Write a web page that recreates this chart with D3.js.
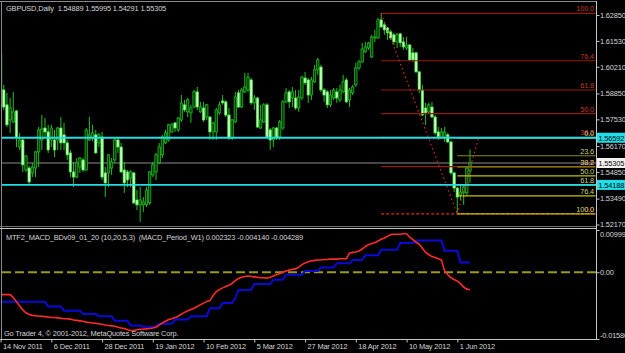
<!DOCTYPE html>
<html><head><meta charset="utf-8">
<script src="https://cdn.jsdelivr.net/npm/d3@7"></script>
<style>html,body{margin:0;padding:0;background:#000;overflow:hidden}svg{display:block}</style>
</head><body><svg id="c" width="625" height="353"></svg>
<script>
// ---- DATA (GBPUSD Daily, 14 Nov 2011 .. 7 Jun 2012) ----
const opens = [1.6087,1.5903,1.5827,1.5750,1.5740,1.5796,1.5612,1.5648,1.5495,1.5505,
1.5480,1.5505,1.5587,1.5648,1.5709,1.5689,1.5648,1.5648,1.5648,1.5709,
1.5674,1.5633,1.5582,1.5485,1.5459,1.5510,1.5546,1.5495,1.5648,1.5658,
1.5674,1.5633,1.5663,1.5480,1.5480,1.5505,1.5546,1.5648,1.5612,1.5495,
1.5485,1.5454,1.5480,1.5342,1.5317,1.5317,1.5317,1.5327,1.5470,1.5485,
1.5531,1.5572,1.5633,1.5648,1.5689,1.5735,1.5699,1.5750,1.5827,1.5791,
1.5786,1.5816,1.5893,1.5791,1.5811,1.5765,1.5765,1.5689,1.5689,1.5786,
1.5847,1.5842,1.5775,1.5658,1.5740,1.5888,1.5816,1.5893,1.5903,1.5954,
1.5837,1.5862,1.5709,1.5740,1.5827,1.5699,1.5648,1.5709,1.5663,1.5709,
1.5842,1.5893,1.5862,1.5862,1.5811,1.5862,1.5964,1.5954,1.5877,1.5944,
1.6005,1.6020,1.5903,1.5893,1.5827,1.5862,1.5893,1.5852,1.5893,1.5954,
1.5852,1.5888,1.5929,1.6015,1.6046,1.6097,1.6117,1.6071,1.6168,1.6168,
1.6260,1.6235,1.6219,1.6199,1.6184,1.6148,1.6189,1.6148,1.6117,1.6132,
1.6092,1.6092,1.5995,1.5903,1.5811,1.5791,1.5816,1.5765,1.5689,1.5663,
1.5663,1.5674,1.5638,1.5480,1.5403,1.5367,1.5378,1.5378,1.54889];
const highs = [1.6097,1.5929,1.5888,1.5862,1.5893,1.5801,1.5684,1.5663,1.5572,1.5516,
1.5531,1.5592,1.5714,1.5775,1.5760,1.5725,1.5725,1.5699,1.5714,1.5765,
1.5735,1.5648,1.5597,1.5536,1.5556,1.5561,1.5556,1.5709,1.5765,1.5725,
1.5699,1.5684,1.5689,1.5510,1.5577,1.5556,1.5663,1.5663,1.5633,1.5536,
1.5495,1.5495,1.5485,1.5393,1.5408,1.5357,1.5408,1.5490,1.5536,1.5582,
1.5633,1.5674,1.5699,1.5730,1.5735,1.5740,1.5765,1.5877,1.5852,1.5862,
1.5827,1.5903,1.5918,1.5842,1.5842,1.5832,1.5770,1.5740,1.5811,1.5842,
1.5877,1.5852,1.5811,1.5755,1.5893,1.5903,1.5913,1.5990,1.5990,1.5964,
1.5877,1.5867,1.5827,1.5837,1.5837,1.5709,1.5714,1.5714,1.5750,1.5852,
1.5913,1.5903,1.5918,1.5903,1.5903,1.5975,1.5995,1.5964,1.5969,1.6031,
1.6066,1.6031,1.5913,1.5903,1.5903,1.5913,1.5913,1.5929,1.5980,1.5964,
1.5913,1.5929,1.6041,1.6056,1.6143,1.6148,1.6148,1.6184,1.6209,1.6270,
1.6296,1.6250,1.6224,1.6209,1.6194,1.6194,1.6194,1.6173,1.6173,1.6137,
1.6117,1.6097,1.6000,1.5929,1.5837,1.5837,1.5842,1.5775,1.5714,1.5709,
1.5714,1.5684,1.5643,1.5485,1.5408,1.5418,1.5418,1.5510,1.55995];
const lows = [1.5877,1.5801,1.5714,1.5684,1.5735,1.5612,1.5597,1.5485,1.5485,1.5424,
1.5459,1.5459,1.5510,1.5597,1.5663,1.5582,1.5612,1.5561,1.5597,1.5597,
1.5597,1.5546,1.5459,1.5408,1.5454,1.5480,1.5485,1.5490,1.5643,1.5643,
1.5577,1.5612,1.5444,1.5357,1.5408,1.5470,1.5531,1.5582,1.5480,1.5378,
1.5408,1.5408,1.5322,1.5291,1.5230,1.5281,1.5306,1.5317,1.5459,1.5444,
1.5526,1.5556,1.5628,1.5638,1.5684,1.5689,1.5689,1.5740,1.5791,1.5765,
1.5735,1.5811,1.5801,1.5786,1.5740,1.5750,1.5648,1.5648,1.5648,1.5775,
1.5827,1.5765,1.5648,1.5648,1.5735,1.5811,1.5811,1.5888,1.5893,1.5827,
1.5801,1.5709,1.5704,1.5735,1.5658,1.5597,1.5612,1.5648,1.5648,1.5699,
1.5837,1.5811,1.5816,1.5801,1.5791,1.5852,1.5929,1.5837,1.5852,1.5939,
1.5980,1.5893,1.5842,1.5811,1.5816,1.5852,1.5837,1.5842,1.5888,1.5837,
1.5816,1.5877,1.5918,1.6005,1.6041,1.6092,1.6107,1.6066,1.6148,1.6163,
1.6219,1.6184,1.6158,1.6158,1.6132,1.6117,1.6122,1.6107,1.6107,1.6051,
1.6046,1.5990,1.5888,1.5770,1.5725,1.5781,1.5760,1.5674,1.5648,1.5658,
1.5638,1.5633,1.5470,1.5383,1.5271,1.5342,1.5317,1.5367,1.54291];
const closes = [1.5903,1.5816,1.5725,1.5811,1.5791,1.5663,1.5648,1.5521,1.5566,1.5434,
1.5510,1.5587,1.5699,1.5704,1.5689,1.5597,1.5709,1.5597,1.5709,1.5633,
1.5633,1.5572,1.5485,1.5459,1.5531,1.5556,1.5495,1.5699,1.5674,1.5684,
1.5582,1.5674,1.5459,1.5429,1.5572,1.5536,1.5648,1.5612,1.5485,1.5429,
1.5444,1.5485,1.5327,1.5317,1.5342,1.5332,1.5393,1.5485,1.5521,1.5572,
1.5612,1.5663,1.5684,1.5725,1.5725,1.5709,1.5760,1.5837,1.5801,1.5852,
1.5811,1.5893,1.5816,1.5816,1.5750,1.5827,1.5689,1.5735,1.5801,1.5827,
1.5837,1.5775,1.5658,1.5750,1.5867,1.5816,1.5903,1.5918,1.5969,1.5837,
1.5862,1.5714,1.5750,1.5827,1.5663,1.5648,1.5709,1.5663,1.5740,1.5842,
1.5888,1.5842,1.5893,1.5811,1.5867,1.5969,1.5939,1.5877,1.5954,1.6005,
1.6056,1.5903,1.5877,1.5827,1.5877,1.5903,1.5862,1.5903,1.5944,1.5842,
1.5903,1.5918,1.6015,1.6046,1.6112,1.6122,1.6143,1.6173,1.6173,1.6260,
1.6224,1.6209,1.6194,1.6168,1.6148,1.6184,1.6143,1.6122,1.6132,1.6056,
1.6056,1.5995,1.5903,1.5775,1.5786,1.5827,1.5765,1.5684,1.5663,1.5689,
1.5689,1.5638,1.5480,1.5403,1.5357,1.5383,1.5408,1.5505,1.55305];

// MTF MACD (weekly) — main (red) and signal (blue), one value per daily bar
const macdMain = [-0.0053,-0.0053,-0.0053,-0.0053,-0.0060,-0.0070,-0.0080,-0.0089,-0.0096,-0.0100,
-0.0102,-0.0103,-0.0104,-0.0104,-0.0105,-0.0106,-0.0107,-0.0107,-0.0108,-0.0109,
-0.0110,-0.0110,-0.0111,-0.0113,-0.0114,-0.0115,-0.0116,-0.0118,-0.0119,-0.0120,
-0.0121,-0.0122,-0.0123,-0.0125,-0.0126,-0.0127,-0.0128,-0.0130,-0.0132,-0.0133,
-0.0136,-0.0138,-0.0138,-0.0136,-0.0135,-0.0135,-0.0134,-0.0133,-0.0132,-0.0130,
-0.0125,-0.0120,-0.0116,-0.0112,-0.0110,-0.0107,-0.0104,-0.0099,-0.0095,-0.0091,
-0.0088,-0.0085,-0.0081,-0.0077,-0.0073,-0.0069,-0.0067,-0.0055,-0.0046,-0.0041,
-0.0037,-0.0034,-0.0031,-0.0026,-0.0020,-0.0015,-0.0012,-0.0010,-0.0009,-0.0010,
-0.0011,-0.0012,-0.0013,-0.0013,-0.0014,-0.0012,-0.0009,-0.0006,-0.0003,0.0000,
0.0003,0.0005,0.0007,0.0008,0.0012,0.0018,0.0022,0.0025,0.0027,0.0028,
0.0029,0.0029,0.0030,0.0030,0.0031,0.0031,0.0031,0.0032,0.0032,0.0032,
0.0045,0.0047,0.0048,0.0050,0.0055,0.0061,0.0065,0.0068,0.0070,0.0074,
0.0078,0.0081,0.0085,0.0089,0.0090,0.0090,0.0090,0.0091,0.0091,0.0083,
0.0077,0.0071,0.0066,0.0057,0.0047,0.0042,0.0037,0.0035,0.0032,0.0029,
0.0003,-0.0006,-0.0013,-0.0017,-0.0021,-0.0027,-0.0035,-0.0040,-0.00414];
const macdSignal = [-0.0070,-0.0070,-0.0070,-0.0070,-0.0070,-0.0070,-0.0070,-0.0070,-0.0070,-0.0070,
-0.0070,-0.0070,-0.0070,-0.0070,-0.0070,-0.0081,-0.0081,-0.0081,-0.0081,-0.0081,
-0.0091,-0.0091,-0.0091,-0.0091,-0.0091,-0.0091,-0.0099,-0.0099,-0.0099,-0.0099,
-0.0099,-0.0104,-0.0104,-0.0104,-0.0104,-0.0104,-0.0115,-0.0115,-0.0115,-0.0115,
-0.0115,-0.0126,-0.0126,-0.0126,-0.0126,-0.0129,-0.0129,-0.0129,-0.0129,-0.0129,
-0.0122,-0.0122,-0.0122,-0.0122,-0.0122,-0.0112,-0.0112,-0.0112,-0.0112,-0.0112,
-0.0104,-0.0104,-0.0104,-0.0104,-0.0104,-0.0104,-0.0085,-0.0085,-0.0085,-0.0085,
-0.0073,-0.0073,-0.0073,-0.0073,-0.0061,-0.0042,-0.0042,-0.0042,-0.0042,-0.0042,
-0.0028,-0.0028,-0.0028,-0.0028,-0.0028,-0.0028,-0.0018,-0.0018,-0.0018,-0.0018,
-0.0006,-0.0006,-0.0006,-0.0006,-0.0006,-0.0006,0.0003,0.0003,0.0003,0.0003,
0.0003,0.0011,0.0011,0.0011,0.0011,0.0011,0.0021,0.0021,0.0021,0.0021,
0.0021,0.0029,0.0029,0.0029,0.0029,0.0040,0.0040,0.0040,0.0040,0.0040,
0.0053,0.0053,0.0053,0.0053,0.0053,0.0053,0.0069,0.0069,0.0069,0.0069,
0.0069,0.0075,0.0075,0.0075,0.0075,0.0075,0.0075,0.0075,0.0075,0.0075,
0.0051,0.0051,0.0051,0.0051,0.0051,0.0023,0.0023,0.0023,0.002323];

const priceTicks = [1.62850,1.61530,1.60210,1.58850,1.57530,1.56170,1.54850,1.53490,1.52170];
const macdTicks = [0.009999,0.0,-0.0158];
const macdTickLabels = ["0.009999","0.00","-0.01580"];
const dateBars = [0,16,32,48,64,80,96,112,128,144];
const dateLabels = ["14 Nov 2011","6 Dec 2011","28 Dec 2011","19 Jan 2012","10 Feb 2012",
  "5 Mar 2012","27 Mar 2012","18 Apr 2012","10 May 2012","1 Jun 2012"];
const cyanLevels = [1.56592,1.54188];
const bidPrice = 1.55305;
const fiboLevels = [0,23.6,38.2,50,61.8,76.4,100];
const redFiboBars = [120,144];        // high bar, low bar
const redFiboPrices = [1.6293,1.5271];
const yelFiboBars = [144,150.7];      // low bar, high point
const yelFiboPrices = [1.5271,1.5659];
const titleText = "GBPUSD,Daily  1.54889 1.55995 1.54291 1.55305";
const indText = "MTF2_MACD_BDv09_01_20 (10,20,5,3)  (MACD_Period_W1) 0.002323 -0.004140 -0.004289";
const copyText = "Go Trader 4, \u00A9 2001-2012, MetaQuotes Software Corp.";

// ---- DRAWING ----
const W = 625, H = 353;
const FONT = '"Liberation Sans", Arial, sans-serif';
const FS = 7.4;
const LS = "-0.15px";
const svg = d3.select("#c");
svg.append("rect").attr("width",W).attr("height",H).attr("fill","#000");

const AX_R = 596.5;
const x = d3.scaleLinear().domain([0,148]).range([0.6,470]);
const y = d3.scaleLinear().domain([1.5217,1.6285]).range([224.5,15]);
const ym = d3.scaleLinear().domain([-0.0158,0.009999]).range([339,230]);

const defs = svg.append("defs");
defs.append("clipPath").attr("id","cm").append("rect").attr("x",2).attr("y",2).attr("width",AX_R-2).attr("height",224);
defs.append("clipPath").attr("id","ci").append("rect").attr("x",2).attr("y",229).attr("width",AX_R-2).attr("height",110);

const gm = svg.append("g").attr("clip-path","url(#cm)");
const gi = svg.append("g").attr("clip-path","url(#ci)");

// bid line
gm.append("line").attr("x1",2).attr("x2",AX_R).attr("y1",y(bidPrice)).attr("y2",y(bidPrice))
  .attr("stroke","#5e5e5e").attr("stroke-width",1.6);

// candles
const idx = d3.range(closes.length);
gm.append("g").selectAll("line").data(idx).join("line")
  .attr("x1",i=>x(i)).attr("x2",i=>x(i))
  .attr("y1",i=>y(highs[i])).attr("y2",i=>y(lows[i]))
  .attr("stroke","#1fc21f").attr("stroke-width",1);
gm.append("g").selectAll("rect").data(idx).join("rect")
  .attr("x",i=>x(i)-1.2).attr("width",2.4)
  .attr("y",i=>y(Math.max(opens[i],closes[i])))
  .attr("height",i=>Math.max(0.8,Math.abs(y(opens[i])-y(closes[i]))))
  .attr("fill",i=>closes[i]<opens[i] ? "#c8ffc0" : "#0c3c0c")
  .attr("stroke",i=>closes[i]<opens[i] ? "#3ee83e" : "#22c822")
  .attr("stroke-width",0.7);

// red fibo
const rHi = redFiboPrices[0], rLo = redFiboPrices[1];
const redLev = fiboLevels.map(l => ({l, p: rLo + l/100*(rHi-rLo)}));
gm.append("g").selectAll("line").data(redLev).join("line")
  .attr("x1",x(redFiboBars[0])).attr("x2",AX_R-1)
  .attr("y1",d=>y(d.p)).attr("y2",d=>y(d.p))
  .attr("stroke",d=>d.l===0?"#e02a1a":"#941a10")
  .attr("stroke-dasharray",d=>d.l===0?"3,2":null)
  .attr("stroke-width",1.2);
// yellow fibo
const yLo = yelFiboPrices[0], yHi = yelFiboPrices[1];
const yelLev = fiboLevels.map(l => ({l, p: yHi - l/100*(yHi-yLo)}));
gm.append("g").selectAll("line").data(yelLev).join("line")
  .attr("x1",x(yelFiboBars[0])).attr("x2",AX_R-1)
  .attr("y1",d=>y(d.p)).attr("y2",d=>y(d.p))
  .attr("stroke",d=>(d.l===23.6||d.l===38.2)?"#8a8a10":"#c4c400")
  .attr("stroke-width",1.2);

// cyan horizontal lines
gm.append("g").selectAll("line").data(cyanLevels).join("line")
  .attr("x1",2).attr("x2",AX_R).attr("y1",d=>y(d)).attr("y2",d=>y(d))
  .attr("stroke","#22dde6").attr("stroke-width",1.8);

// fibo trend lines (dotted)
gm.append("line").attr("x1",x(redFiboBars[0])).attr("y1",y(redFiboPrices[0]))
  .attr("x2",x(redFiboBars[1])).attr("y2",y(redFiboPrices[1]))
  .attr("stroke","#d42a1a").attr("stroke-width",1.2).attr("stroke-dasharray","1.5,3");
gm.append("line").attr("x1",x(yelFiboBars[0])).attr("y1",y(yelFiboPrices[0]))
  .attr("x2",x(yelFiboBars[1])).attr("y2",y(yelFiboPrices[1]))
  .attr("stroke","#d42a1a").attr("stroke-width",1.2).attr("stroke-dasharray","1.5,3");

// fibo labels
const fmtL = d3.format(".1f");
gm.append("g").selectAll("text").data(redLev).join("text")
  .attr("x",594).attr("y",d=>y(d.p)-2).attr("text-anchor","end")
  .attr("font-family",FONT).attr("font-size",FS).attr("letter-spacing",LS).attr("fill","#c23a22")
  .text(d=>fmtL(d.l));
gm.append("g").selectAll("text").data(yelLev).join("text")
  .attr("x",594).attr("y",d=>y(d.p)-2).attr("text-anchor","end")
  .attr("font-family",FONT).attr("font-size",FS).attr("letter-spacing",LS).attr("fill","#cfcf7a")
  .text(d=>fmtL(d.l));

// MACD panel
gi.append("line").attr("x1",2).attr("x2",AX_R).attr("y1",ym(0)).attr("y2",ym(0))
  .attr("stroke","#9a9a1e").attr("stroke-width",2).attr("stroke-dasharray","9,4");
const ln = d3.line().x((d,i)=>x(i)).y(d=>ym(d));
gi.append("path").attr("d",ln(macdSignal)).attr("fill","none").attr("stroke","#0a0ad8").attr("stroke-width",2);
gi.append("path").attr("d",ln(macdMain)).attr("fill","none").attr("stroke","#ff2a2a").attr("stroke-width",1.6);

// frames
const fr = svg.append("g").attr("stroke-width",1);
fr.append("line").attr("x1",0).attr("x2",AX_R).attr("y1",1.5).attr("y2",1.5).attr("stroke","#8a8a8a");
fr.append("line").attr("x1",1.5).attr("x2",1.5).attr("y1",1).attr("y2",339.5).attr("stroke","#8a8a8a");
fr.append("line").attr("x1",0).attr("x2",AX_R).attr("y1",226.5).attr("y2",226.5).attr("stroke","#6e6e6e");
fr.append("line").attr("x1",0).attr("x2",AX_R).attr("y1",228.5).attr("y2",228.5).attr("stroke","#c4c4c4");
fr.append("line").attr("x1",0).attr("x2",AX_R).attr("y1",339.5).attr("y2",339.5).attr("stroke","#c4c4c4");
fr.append("line").attr("x1",AX_R).attr("x2",AX_R).attr("y1",1).attr("y2",340).attr("stroke","#c4c4c4");

// axes
function styleAxis(g){
  g.attr("font-family",FONT).attr("font-size",FS).attr("letter-spacing",LS);
  g.select(".domain").remove();
  g.selectAll(".tick line").attr("stroke","#c4c4c4");
  g.selectAll(".tick text").attr("fill","#d6d6d6");
}
const gy = svg.append("g").attr("transform",`translate(${AX_R},0)`)
  .call(d3.axisRight(y).tickValues(priceTicks).tickFormat(d3.format(".5f")).tickSize(3).tickPadding(0.5));
styleAxis(gy);
const gym = svg.append("g").attr("transform",`translate(${AX_R},0)`)
  .call(d3.axisRight(ym).tickValues(macdTicks).tickFormat((d,i)=>macdTickLabels[i]).tickSize(3).tickPadding(0.5));
styleAxis(gym);
gym.selectAll(".tick text").attr("dy",(d,i)=> i===0 ? "0.9em" : (i===2 ? "-0.2em" : "0.32em"));
const gx = svg.append("g").attr("transform","translate(0,339.5)")
  .call(d3.axisBottom(x).tickValues(dateBars).tickFormat((d,i)=>dateLabels[i]).tickSize(3).tickPadding(1.5));
styleAxis(gx);
gx.selectAll(".tick text").attr("text-anchor","start").attr("dx",2);

// price label boxes
const boxes = [{p:cyanLevels[0],c:"#1fe0ea"},{p:bidPrice,c:"#f2f2f2"},{p:cyanLevels[1],c:"#1fe0ea"}];
const gb = svg.append("g");
boxes.forEach(b=>{
  gb.append("rect").attr("x",AX_R+0.5).attr("y",y(b.p)-5).attr("width",30).attr("height",10).attr("fill",b.c);
  gb.append("text").attr("x",AX_R+2).attr("y",y(b.p)+2.8).attr("font-family",FONT).attr("font-size",FS)
    .attr("letter-spacing",LS).attr("fill","#000").text(d3.format(".5f")(b.p));
});

// titles
svg.append("text").attr("x",6).attr("y",11).attr("font-family",FONT).attr("font-size",FS).attr("letter-spacing",LS)
  .attr("fill","#d6d6d6").style("white-space","pre").text(titleText);
svg.append("text").attr("x",6).attr("y",239.5).attr("font-family",FONT).attr("font-size",FS).attr("letter-spacing",LS)
  .attr("fill","#d6d6d6").style("white-space","pre").text(indText);
svg.append("text").attr("x",4).attr("y",335.5).attr("font-family",FONT).attr("font-size",FS).attr("letter-spacing",LS)
  .attr("fill","#d6d6d6").text(copyText);
</script></body></html>
